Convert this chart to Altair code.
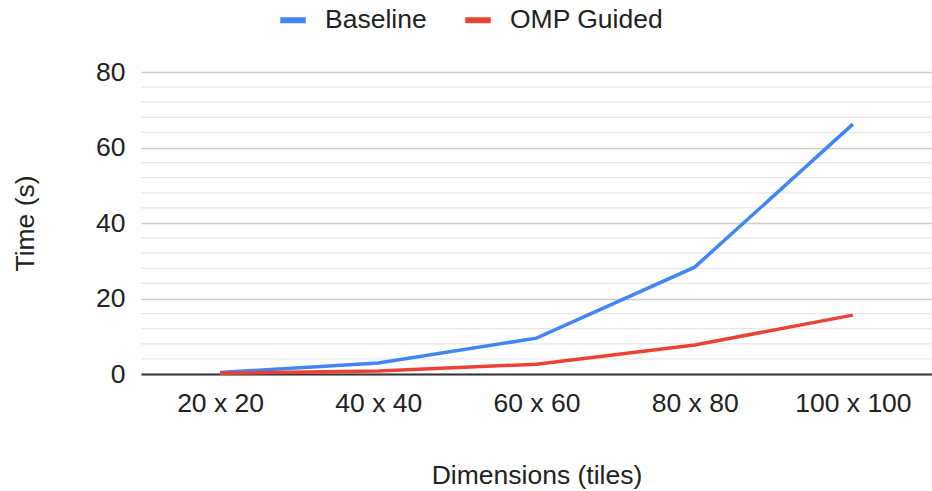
import altair as alt
import pandas as pd

dims = ["20 x 20", "40 x 40", "60 x 60", "80 x 80", "100 x 100"]
baseline = [0.4, 2.9, 9.5, 28.3, 66.2]
omp_guided = [0.2, 0.8, 2.6, 7.7, 15.6]
series_names = ["Baseline", "OMP Guided"]
series_colors = ["#4285F4", "#EA4335"]
major_ticks = [0, 20, 40, 60, 80]
minor_ticks = [v for v in range(0, 81, 4) if v % 20 != 0]

rows = []
for d, b, o in zip(dims, baseline, omp_guided):
    rows.append({"dim": d, "series": "Baseline", "time": b})
    rows.append({"dim": d, "series": "OMP Guided", "time": o})
df = pd.DataFrame(rows)
minor_df = pd.DataFrame({"time": minor_ticks})

FONT = "Liberation Sans"
FS = 26.5

y_scale = alt.Scale(domain=[0, 80], nice=False)
y_axis = alt.Axis(
    title="Time (s)",
    values=major_ticks,
    labelFontSize=FS,
    labelColor="#222222",
    labelPadding=16,
    ticks=False,
    domain=False,
    grid=True,
    gridColor="#cccccc",
    gridWidth=1.5,
    titleFontSize=FS,
    titleFontWeight="normal",
    titleColor="#222222",
    titlePadding=56,
)

minor = alt.Chart(minor_df).mark_rule(color="#e6e6e6", strokeWidth=1.3).encode(
    y=alt.Y("time:Q", scale=y_scale, axis=y_axis)
)

lines = alt.Chart(df).mark_line(strokeWidth=3.5).encode(
    x=alt.X(
        "dim:N",
        sort=dims,
        scale=alt.Scale(type="point", padding=0.5),
        axis=alt.Axis(
            title="Dimensions (tiles)",
            labelAngle=0,
            labelFontSize=FS,
            labelColor="#222222",
            labelPadding=16,
            ticks=False,
            grid=False,
            domainColor="#333333",
            domainWidth=2,
            titleFontSize=FS,
            titleFontWeight="normal",
            titleColor="#222222",
            titlePadding=46,
        ),
    ),
    y=alt.Y("time:Q", scale=y_scale, axis=y_axis),
    color=alt.Color(
        "series:N",
        scale=alt.Scale(domain=series_names, range=series_colors),
        legend=alt.Legend(
            title=None,
            orient="none",
            direction="horizontal",
            legendX=136,
            legendY=-68,
            symbolType="stroke",
            symbolSize=650,
            symbolStrokeWidth=6,
            labelFontSize=FS,
            labelColor="#222222",
            labelOffset=16,
            columnPadding=26,
        ),
    ),
)

chart = (
    alt.layer(minor, lines)
    .properties(
        width=791,
        height=302,
        autosize=alt.AutoSizeParams(type="none"),
        padding={"left": 141, "top": 72, "right": 0, "bottom": 117},
    )
    .configure(font=FONT)
    .configure_view(stroke=None)
)

chart.save("out.html", embed_options={"renderer": "svg", "actions": False})
